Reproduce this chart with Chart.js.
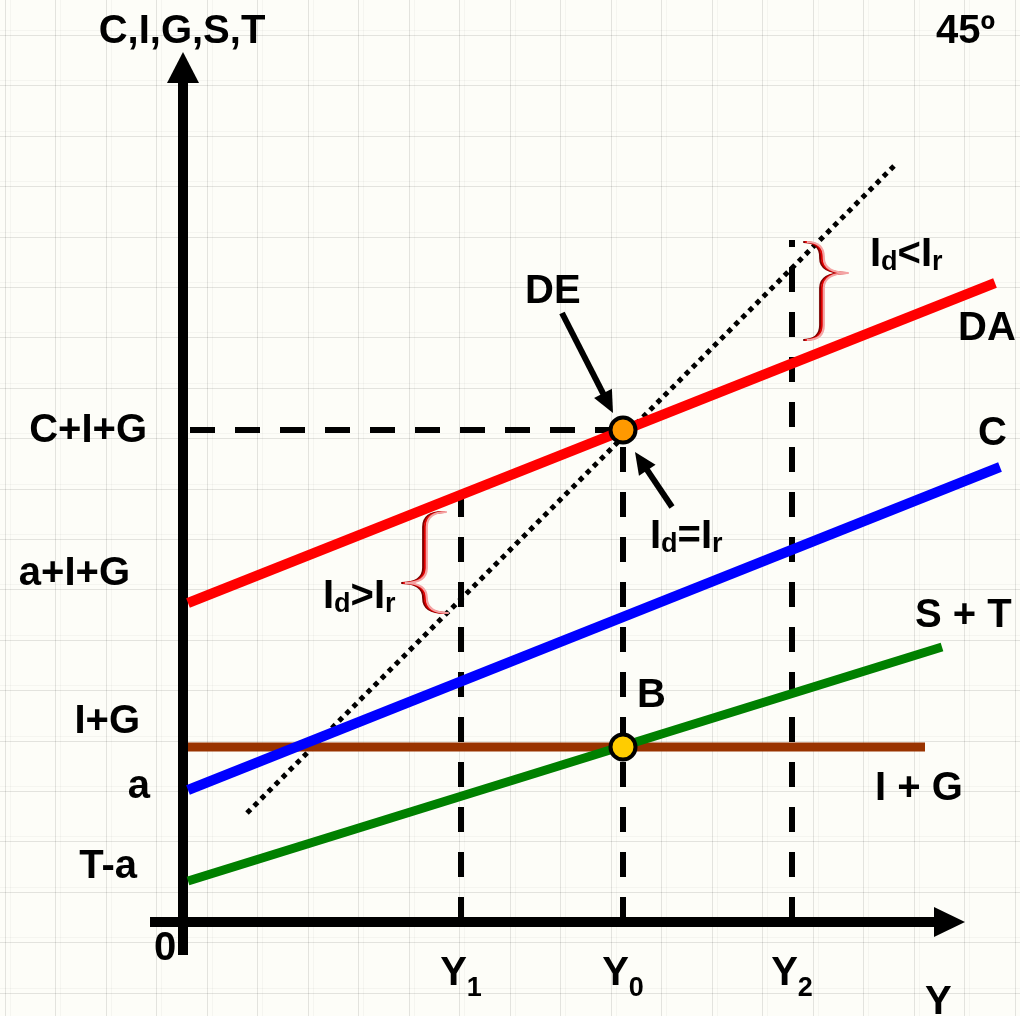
<!DOCTYPE html>
<html>
<head>
<meta charset="utf-8">
<script src="https://cdn.jsdelivr.net/npm/chart.js@4.4.1/dist/chart.umd.min.js"></script>
<style>
html,body{margin:0;padding:0;background:#fdfdf8;overflow:hidden}
canvas{display:block}
</style>
</head>
<body>
<canvas id="c" width="1020" height="1016"></canvas>
<script>
// ---------- data ----------
const incomeLevels = ['Y1', 'Y0', 'Y2'];
const incomeValues = [27.7, 43.9, 60.8];
const guideTops = [43.0, 49.2, 68.2];          // top of the dashed income guides
const daX = [0.4, 81.1];   const daY = [31.9, 63.9];   // DA  (C+I+G)
const cX  = [0.4, 81.6];   const cY  = [13.2, 45.5];   // C
const stX = [0.4, 75.8];   const stY = [4.1, 27.5];    // S + T
const igX = [0.4, 74.1];   const igY = [17.5, 17.5];   // I + G
const l45X = [6.3, 71.3];  const l45Y = [10.9, 75.9];  // 45º line
const pointDE = [43.9, 49.2];
const pointB  = [43.9, 17.5];
const yAxisLabels = ['C+I+G', 'a+I+G', 'I+G', 'a', 'T-a'];

// ---------- layout / style (not data) ----------
const SCALE = { xMin: -18.4, xMax: 83.6, yMin: -9.4, yMax: 92.2 };
const FONT = '"Liberation Sans", Arial, Helvetica, sans-serif';
const BIG = 'bold 40px ' + FONT;
const SUB = 'bold 27px ' + FONT;

const yLabelPos = [[-3.7, 48.0], [-5.4, 33.7], [-4.4, 18.9], [-3.4, 12.4], [-4.7, 4.4]];
const textLabels = [
  { segs: [['C,I,G,S,T']], x: -0.2, y: 87.9, align: 'center' },
  { segs: [['45º']], x: 75.2, y: 87.9 },
  { segs: [['0']], x: -1.9, y: -3.8, align: 'center' },
  { segs: [['Y']], x: 74.1, y: -9.2 },
  { segs: [['DE']], x: 34.1, y: 61.9 },
  { segs: [['DA']], x: 77.4, y: 58.2 },
  { segs: [['C']], x: 79.4, y: 47.7 },
  { segs: [['S + T']], x: 73.1, y: 29.5 },
  { segs: [['B']], x: 45.3, y: 21.5 },
  { segs: [['I + G']], x: 69.1, y: 12.2 },
  { segs: [['I'], ['d', 1], ['='], ['I'], ['r', 1]], x: 46.6, y: 37.4 },
  { segs: [['I'], ['d', 1], ['>'], ['I'], ['r', 1]], x: 13.9, y: 31.4 },
  { segs: [['I'], ['d', 1], ['<'], ['I'], ['r', 1]], x: 68.6, y: 65.6 }
];
// braces: top, tip, bottom, stem x (data units)
const braces = [
  { top: [26.1, 41.0], tip: [21.9, 33.9], bottom: [26.3, 30.9], stem: 24.1 },
  { top: [62.1, 68.0], tip: [66.3, 64.9], bottom: [62.1, 58.2], stem: 63.8 }
];
const pointers = [
  { from: [37.8, 60.9], to: [42.9, 50.9] },
  { from: [48.8, 41.5], to: [45.1, 47.0] }
];

function pts(xs, ys) { return xs.map((x, i) => ({ x: x, y: ys[i] })); }
function lineDs(data, color, width, order, dash) {
  return { data: data, showLine: true, borderColor: color, borderWidth: width,
    pointRadius: 0, pointHoverRadius: 0, fill: false, order: order,
    borderDash: dash || [], clip: false, tension: 0 };
}

const datasets = [
  { data: [{ x: pointDE[0], y: pointDE[1] }], pointRadius: 12.5, pointBorderWidth: 4,
    pointBackgroundColor: '#ff9900', pointBorderColor: '#000', showLine: false, order: 0, clip: false },
  { data: [{ x: pointB[0], y: pointB[1] }], pointRadius: 12.5, pointBorderWidth: 4,
    pointBackgroundColor: '#ffcc00', pointBorderColor: '#000', showLine: false, order: 0, clip: false },
  lineDs(pts(daX, daY), '#ff0000', 10, 2),
  lineDs(pts(cX, cY), '#0000ff', 10, 2),
  lineDs(pts(stX, stY), '#008000', 9, 2),
  lineDs(pts(igX, igY), '#993300', 9, 3),
  lineDs(pts(l45X, l45Y), '#000000', 5, 6, [5, 5]),
  lineDs([{ x: 0.6, y: pointDE[1] }, { x: pointDE[0] - 1.3, y: pointDE[1] }], '#000000', 6, 5, [25, 20])
];
incomeValues.forEach((v, i) => {
  datasets.push(lineDs([{ x: v, y: 0 }, { x: v, y: guideTops[i] }], '#000000', 6, 5, [25, 20]));
});

function drawSegs(ctx, segs, x, y, align) {
  let total = 0;
  segs.forEach(s => { ctx.font = s[1] ? SUB : BIG; total += ctx.measureText(s[0]).width; });
  let cx = align === 'right' ? x - total : align === 'center' ? x - total / 2 : x;
  ctx.textAlign = 'left'; ctx.textBaseline = 'alphabetic';
  segs.forEach(s => {
    ctx.font = s[1] ? SUB : BIG;
    ctx.fillText(s[0], cx, y + (s[1] ? (s[1] === 2 ? 11 : 4) : 0));
    cx += ctx.measureText(s[0]).width;
  });
}

function arrowHead(ctx, tx, ty, ang, len, half) {
  ctx.beginPath();
  ctx.moveTo(tx, ty);
  ctx.lineTo(tx - len * Math.cos(ang) + half * Math.sin(ang), ty - len * Math.sin(ang) - half * Math.cos(ang));
  ctx.lineTo(tx - len * Math.cos(ang) - half * Math.sin(ang), ty - len * Math.sin(ang) + half * Math.cos(ang));
  ctx.closePath();
  ctx.fill();
}

const bgPlugin = {
  id: 'paper',
  beforeDraw(chart) {
    const ctx = chart.ctx, W = chart.width, H = chart.height;
    ctx.save();
    ctx.fillStyle = '#fdfdf8';
    ctx.fillRect(0, 0, W, H);
    ctx.lineWidth = 1;
    for (let k = 0; k < 22; k++) {
      const x = Math.round(4.5 + 50.5 * k) + 0.5;
      ctx.strokeStyle = 'rgba(0,0,0,0.03)';
      ctx.beginPath(); ctx.moveTo(x + 5, 0); ctx.lineTo(x + 5, H); ctx.stroke();
      ctx.strokeStyle = 'rgba(0,0,0,0.10)';
      ctx.beginPath(); ctx.moveTo(x, 0); ctx.lineTo(x, H); ctx.stroke();
    }
    for (let k = 0; k < 22; k++) {
      const y = Math.round(35 + 50.4 * k) + 0.5;
      ctx.strokeStyle = 'rgba(0,0,0,0.03)';
      ctx.beginPath(); ctx.moveTo(0, y - 5); ctx.lineTo(W, y - 5); ctx.stroke();
      ctx.strokeStyle = 'rgba(0,0,0,0.10)';
      ctx.beginPath(); ctx.moveTo(0, y); ctx.lineTo(W, y); ctx.stroke();
    }
    ctx.restore();
  },
  beforeDatasetsDraw(chart) {
    const ctx = chart.ctx, xs = chart.scales.x, ys = chart.scales.y;
    const ox = xs.getPixelForValue(0) - 1, oy = ys.getPixelForValue(0);
    ctx.save();
    ctx.fillStyle = '#000'; ctx.strokeStyle = '#000'; ctx.lineWidth = 10; ctx.lineCap = 'butt';
    // y axis
    const yBot = ys.getPixelForValue(-3.3), yTip = ys.getPixelForValue(87.0);
    ctx.beginPath(); ctx.moveTo(ox, yBot); ctx.lineTo(ox, yTip + 28); ctx.stroke();
    arrowHead(ctx, ox, yTip, -Math.PI / 2, 31, 16);
    // x axis
    const xLeft = xs.getPixelForValue(-3.4), xTip = xs.getPixelForValue(78.1);
    ctx.beginPath(); ctx.moveTo(xLeft, oy); ctx.lineTo(xTip - 28, oy); ctx.stroke();
    arrowHead(ctx, xTip, oy, 0, 31, 15);
    ctx.restore();
  },
  afterDatasetsDraw(chart) {
    const ctx = chart.ctx, xs = chart.scales.x, ys = chart.scales.y;
    const px = v => xs.getPixelForValue(v), py = v => ys.getPixelForValue(v);
    ctx.save();
    // braces
    braces.forEach(b => {
      const strokes = [[-1.8, '#7a0000'], [0, '#e00000'], [1.8, '#f4a3a3']];
      strokes.forEach(s => {
        const d = s[0];
        const tX = px(b.top[0]) + d, tY = py(b.top[1]);
        const mX = px(b.tip[0]) + d, mY = py(b.tip[1]);
        const bX = px(b.bottom[0]) + d, bY = py(b.bottom[1]);
        const sX = px(b.stem) + d;
        const r1 = Math.min(15, (mY - tY) / 2), r2 = Math.min(15, (bY - mY) / 2);
        ctx.strokeStyle = s[1]; ctx.lineWidth = 2.2;
        ctx.beginPath();
        ctx.moveTo(tX, tY);
        ctx.quadraticCurveTo(sX, tY, sX, tY + r1);
        ctx.lineTo(sX, mY - r1);
        ctx.quadraticCurveTo(sX, mY, mX, mY);
        ctx.quadraticCurveTo(sX, mY, sX, mY + r2);
        ctx.lineTo(sX, bY - r2);
        ctx.quadraticCurveTo(sX, bY, bX, bY);
        ctx.stroke();
      });
    });
    // pointer arrows
    ctx.fillStyle = '#000'; ctx.strokeStyle = '#000';
    pointers.forEach(a => {
      const x1 = px(a.from[0]), y1 = py(a.from[1]), x2 = px(a.to[0]), y2 = py(a.to[1]);
      const ang = Math.atan2(y2 - y1, x2 - x1);
      ctx.lineWidth = 6;
      ctx.beginPath(); ctx.moveTo(x1, y1);
      ctx.lineTo(x2 - 18 * Math.cos(ang), y2 - 18 * Math.sin(ang)); ctx.stroke();
      arrowHead(ctx, x2, y2, ang, 22, 10);
    });
    // text
    ctx.fillStyle = '#000';
    yAxisLabels.forEach((t, i) => drawSegs(ctx, [[t]], px(yLabelPos[i][0]), py(yLabelPos[i][1]), 'right'));
    incomeLevels.forEach((t, i) => drawSegs(ctx, [[t[0]], [t.slice(1), 2]], px(incomeValues[i]), py(-6.3), 'center'));
    textLabels.forEach(l => drawSegs(ctx, l.segs, px(l.x), py(l.y), l.align || 'left'));
    ctx.restore();
  }
};

new Chart(document.getElementById('c'), {
  type: 'scatter',
  data: { datasets: datasets },
  options: {
    responsive: false,
    animation: false,
    devicePixelRatio: 1,
    events: [],
    layout: { padding: 0, autoPadding: false },
    plugins: { legend: { display: false }, tooltip: { enabled: false }, title: { display: false } },
    scales: {
      x: { type: 'linear', min: SCALE.xMin, max: SCALE.xMax, display: false },
      y: { type: 'linear', min: SCALE.yMin, max: SCALE.yMax, display: false }
    }
  },
  plugins: [bgPlugin]
});
</script>
</body>
</html>
